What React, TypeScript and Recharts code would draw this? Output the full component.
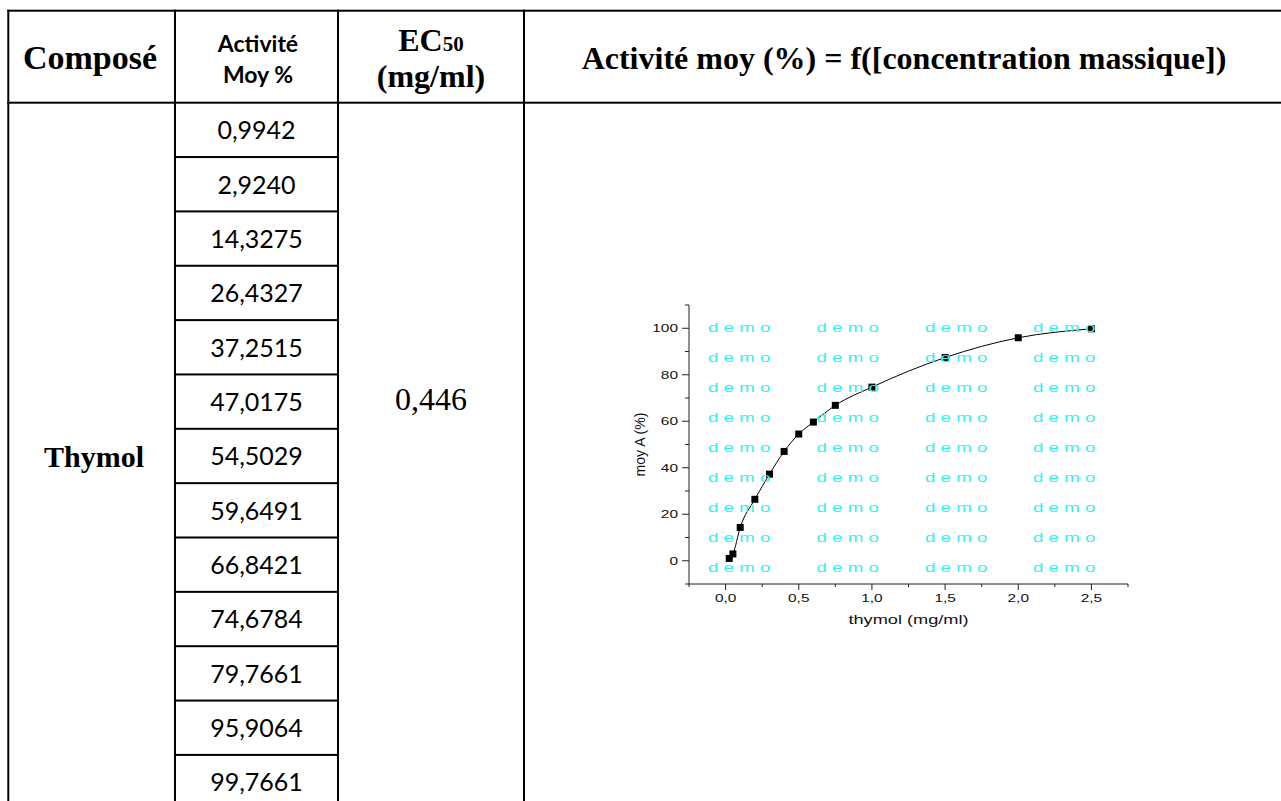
import React from 'react';
import { LineChart, Line, XAxis, YAxis } from 'recharts';

// concentration (mg/ml) and mean activity (%)
const concentration = [0.025, 0.05, 0.1, 0.2, 0.3, 0.4, 0.5, 0.6, 0.75, 1, 1.5, 2, 2.5];
const activityCurve = [0.9942, 2.924, 14.3275, 26.4327, 37.2515, 47.0175, 54.5029, 59.6491, 66.8421, 74.6784, 87.4, 95.9064, 99.7661];

// values printed in the table column
const activityTable = [
  '0,9942', '2,9240', '14,3275', '26,4327', '37,2515', '47,0175', '54,5029',
  '59,6491', '66,8421', '74,6784', '79,7661', '95,9064', '99,7661',
];

const xTicks = [-0.25, 0, 0.25, 0.5, 0.75, 1, 1.25, 1.5, 1.75, 2, 2.25, 2.5, 2.75];
const xLabelled = [0, 0.5, 1, 1.5, 2, 2.5];
const yTicks = [-10, 0, 10, 20, 30, 40, 50, 60, 70, 80, 90, 100, 110];
const yLabelled = [0, 20, 40, 60, 80, 100];

const chartData = concentration.map((x, i) => ({ x, y: activityCurve[i] }));

const SERIF = "'Liberation Serif', 'Times New Roman', serif";
const SANS = "'Liberation Sans', Arial, sans-serif";
const CALIBRI = "Lato, Carlito, sans-serif";
const AXIS = '#222';

const XTick = (props: any) => {
  const { x, y, payload } = props;
  const v = payload.value;
  const major = xLabelled.includes(v);
  return (
    <g>
      <line x1={x} y1={y} x2={x} y2={y + (major ? 6 : 3)} stroke={AXIS} />
      {major && (
        <text
          transform={`translate(${x},${y + 18}) scale(1.4,1)`}
          textAnchor="middle"
          fontSize={11}
          fontFamily={SANS}
          fill="#111"
        >
          {v.toFixed(1).replace('.', ',')}
        </text>
      )}
    </g>
  );
};

const YTick = (props: any) => {
  const { x, y, payload } = props;
  const v = payload.value;
  const major = yLabelled.includes(v);
  return (
    <g>
      <line x1={x - (major ? 7 : 4)} y1={y} x2={x} y2={y} stroke={AXIS} />
      {major && (
        <text
          transform={`translate(${x - 11},${y + 4}) scale(1.4,1)`}
          textAnchor="end"
          fontSize={11}
          fontFamily={SANS}
          fill="#111"
        >
          {v}
        </text>
      )}
    </g>
  );
};

const SquareDot = (props: any) => {
  const { cx, cy } = props;
  return <rect x={cx - 3.5} y={cy - 3.5} width={7} height={7} fill="#000" />;
};

const xTitle = (props: any) => {
  const vb = props.viewBox;
  return (
    <text
      transform={`translate(${vb.x + vb.width / 2},${vb.y + 40}) scale(1.4,1)`}
      textAnchor="middle"
      fontSize={13}
      fontFamily={SANS}
      fill="#111"
    >
      thymol (mg/ml)
    </text>
  );
};

const yTitle = (props: any) => {
  const vb = props.viewBox;
  const cx = vb.x + 11;
  const cy = vb.y + vb.height / 2;
  return (
    <text
      x={cx}
      y={cy}
      transform={`rotate(-90 ${cx} ${cy})`}
      textAnchor="middle"
      dominantBaseline="central"
      fontSize={14}
      fontFamily={SANS}
      fill="#111"
    >
      moy A (%)
    </text>
  );
};

const DoseChart = () => (
  <LineChart
    width={548}
    height={354}
    data={chartData}
    margin={{ top: 15, right: 20, bottom: 10, left: 29 }}
  >
    <XAxis
      type="number"
      dataKey="x"
      domain={[-0.25, 2.75]}
      ticks={xTicks}
      interval={0}
      tickSize={0}
      tickMargin={0}
      tickLine={false}
      axisLine={{ stroke: AXIS }}
      tick={XTick}
      height={50}
      label={xTitle}
      allowDataOverflow
    />
    <YAxis
      type="number"
      domain={[-10, 110]}
      ticks={yTicks}
      interval={0}
      tickSize={0}
      tickMargin={0}
      tickLine={false}
      axisLine={{ stroke: AXIS }}
      tick={YTick}
      width={60}
      label={yTitle}
      allowDataOverflow
    />
    <Line
      dataKey="y"
      type="monotone"
      stroke="#000"
      strokeWidth={1}
      dot={SquareDot}
      activeDot={false}
      isAnimationActive={false}
    />
  </LineChart>
);

// "demo" watermark of the plotting software
const wmCols = [708, 816.5, 925, 1033];
const wmRows = [332, 362, 392, 422, 452, 482, 512, 542, 572];

const Watermark = () => (
  <svg width={1281} height={801} style={{ position: 'absolute', left: 0, top: 0, pointerEvents: 'none' }}>
    {wmRows.map((y) =>
      wmCols.map((x) => (
        <text
          key={`${x}-${y}`}
          transform={`translate(${x},${y}) scale(1.5,1)`}
          fontSize={12.5}
          fontFamily={SANS}
          fill="#33f2f2"
        >
          d e m o
        </text>
      ))
    )}
  </svg>
);

const rowH = 54.35;
const headBottom = 102.7;

const Table = () => (
  <svg width={1281} height={801} style={{ position: 'absolute', left: 0, top: 0 }}>
    <rect x={0} y={0} width={1281} height={801} fill="#fff" />
    {/* frame */}
    <rect x={7.3} y={9.7} width={1300} height={2} fill="#000" />
    <rect x={7.3} y={headBottom - 1} width={1300} height={2} fill="#000" />
    <rect x={7.3} y={9.7} width={2} height={820} fill="#000" />
    <rect x={174} y={9.7} width={2} height={820} fill="#000" />
    <rect x={337} y={9.7} width={2} height={820} fill="#000" />
    <rect x={523} y={9.7} width={2} height={820} fill="#000" />
    {activityTable.slice(1).map((_, i) => (
      <rect key={i} x={175} y={headBottom + rowH * (i + 1) - 1} width={163} height={2} fill="#000" />
    ))}

    {/* header */}
    <text x={90} y={69} textAnchor="middle" fontFamily={SERIF} fontWeight="bold" fontSize={34}>
      Composé
    </text>
    <text x={258} y={52} textAnchor="middle" fontFamily={CALIBRI} fontWeight="bold" fontSize={23}>
      Activité
    </text>
    <text x={258} y={83} textAnchor="middle" fontFamily={CALIBRI} fontWeight="bold" fontSize={23}>
      Moy %
    </text>
    <text x={431} y={51} textAnchor="middle" fontFamily={SERIF} fontWeight="bold" fontSize={32}>
      EC<tspan fontSize={21}>50</tspan>
    </text>
    <text x={431} y={87} textAnchor="middle" fontFamily={SERIF} fontWeight="bold" fontSize={32}>
      (mg/ml)
    </text>
    <text x={904} y={69} textAnchor="middle" fontFamily={SERIF} fontWeight="bold" fontSize={32}>
      Activité moy (%) = f([concentration massique])
    </text>

    {/* body */}
    <text x={94} y={467} textAnchor="middle" fontFamily={SERIF} fontWeight="bold" fontSize={30}>
      Thymol
    </text>
    {activityTable.map((v, i) => (
      <text key={v} x={256.5} y={headBottom + rowH * i + 36.5} textAnchor="middle" fontFamily={CALIBRI} fontSize={25}>
        {v}
      </text>
    ))}
    <text x={431} y={410} textAnchor="middle" fontFamily={SERIF} fontSize={32}>
      0,446
    </text>
  </svg>
);

export default function App() {
  return (
    <div style={{ position: 'fixed', left: 0, top: 0, width: 1281, height: 801, overflow: 'hidden', background: '#fff' }}>
      <Table />
      <div style={{ position: 'absolute', left: 600, top: 290 }}>
        <DoseChart />
      </div>
      <Watermark />
    </div>
  );
}
